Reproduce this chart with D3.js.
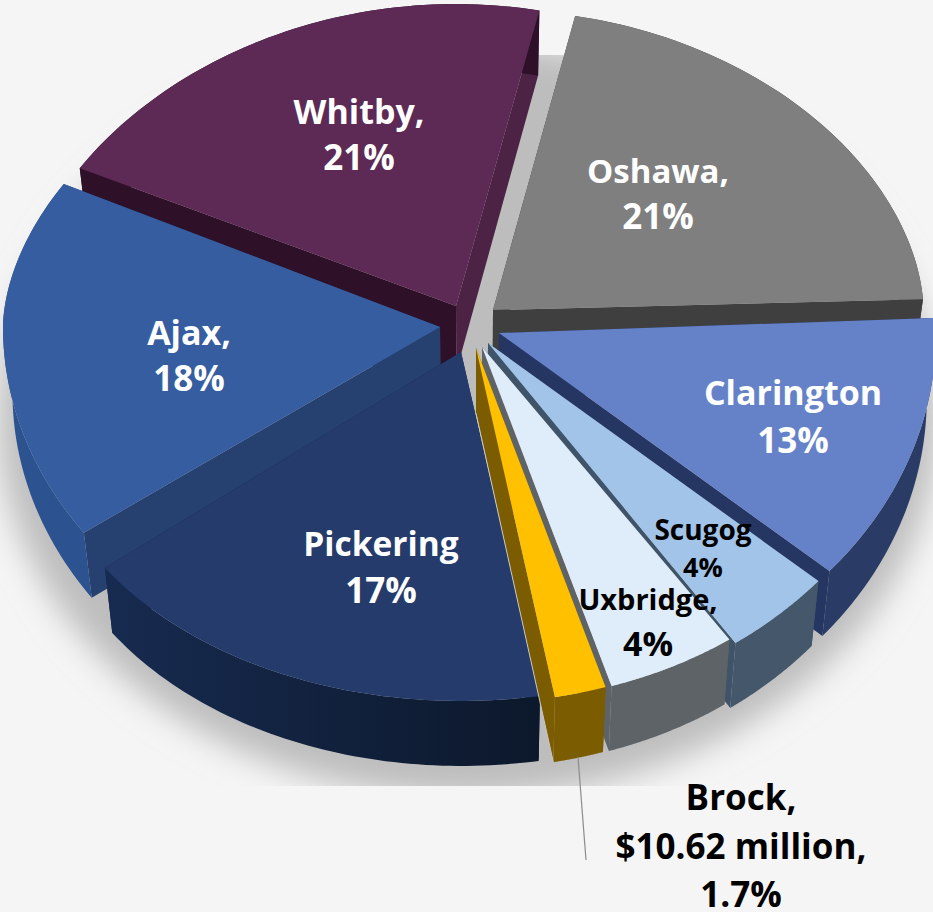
<!DOCTYPE html>
<html>
<head>
<meta charset="utf-8">
<script src="https://cdnjs.cloudflare.com/ajax/libs/d3/7.8.5/d3.min.js"></script>
<style>
  html, body { margin: 0; padding: 0; background: #f5f5f5; overflow: hidden; }
  svg { display: block; }
  text { font-family: "Open Sans", sans-serif; font-weight: 700; text-anchor: middle; }
</style>
</head>
<body>
<script>
//-----------------------------------------------------------------
//------------------ Chart values ---------------------------------

var towns  = ["Oshawa", "Clarington", "Scugog", "Uxbridge", "Brock", "Pickering", "Ajax", "Whitby"];
var shares = [21, 13, 4, 4, 1.7, 17, 18, 21];
var labelLines = [
    ["Oshawa,", "21%"],
    ["Clarington", "13%"],
    ["Scugog", "4%"],
    ["Uxbridge,", "4%"],
    ["Brock,", "$10.62 million,", "1.7%"],
    ["Pickering", "17%"],
    ["Ajax,", "18%"],
    ["Whitby,", "21%"]
];

//-----------------------------------------------------------------
//------------------ Colours for each slice -----------------------

var topColors   = ["#7f7f7f", "#6582c9", "#a1c4e8", "#dfecf9", "#ffc000", "#243b6b", "#355d9f", "#5c2a55"];
var rimColors   = ["#3f3f3f", "#2a3b66", "#45586b", "#5e6367", "#7b5c00", "url(#pickeringWall)", "#2c5290", "#2f1029"];
var startColors = ["#3f3f3f", "#263662", "#3f5468", "#5e6367", "#7b5c00", "#14264a", "#264070", "#2f1029"];
var endColors   = ["#3f3f3f", "#263662", "#3f5468", "#5e6367", "#7b5c00", "#14264a", "#264070", "#4c2245"];
var textColors  = ["#fff", "#fff", "#000", "#000", "#000", "#fff", "#fff", "#fff"];

//-----------------------------------------------------------------
//------------------ Layout ---------------------------------------

var width = 933, height = 912;
var center = { x: 475, y: 335 };
var radiusX = 437, radiusUp = 305, radiusDown = 355;  // the disc is tilted so the far half is squashed
var depth = 65, pinch = 0.02;                         // thickness, and how much the underside narrows

// how far each slice is pulled from the centre, and rim trim
var explodeX = [18, 24, 13, 7, 1, -14, -35, -19];
var explodeY = [-25, -2, 8, 12, 13, 17, -8, -29];
var rimX = [0.985, 1, 1, 1, 1, 1, 1, 1];
var rimY = [0.984, 1.025, 1.025, 1, 1, 0.983, 1, 0.99];

// rim is not a true ellipse, it flattens or bulges towards the sides
var powerUp   = [1.1, 1, 1, 1, 1, 1, 1.12, 1.16];
var powerDown = [1, 1, 1, 1, 1, 0.88, 1, 1];

// perspective shift (degrees) at each slice boundary
var tiltShift = [0, 0.4, -2.9, -2.7, 0.1, 0.8, 4.4, 5.4, 0];
var startDeg = 11;

// paint order, back to front
var paintOrder = [0, 7, 6, 5, 1, 2, 3, 4];

// label anchors (centre x, first baseline) and line spacing
var labelX   = [658, 793, 703, 648, 741, 381, 189, 359];
var labelY   = [183, 405, 540, 610, 810, 556, 345, 124];
var labelGap = [46, 48, 37, 46, 48.5, 47, 46, 46];
var labelSize = [[33, 35], [34, 35], [28, 27], [29, 34], [35, 35, 35], [33.5, 35], [34, 35], [34, 35]];

//-----------------------------------------------------------------
//------------------ Creating the svg -----------------------------

var svg = d3.select("body").append("svg")
    .attr("width", width)
    .attr("height", height);

svg.append("rect").attr("width", width).attr("height", height).attr("fill", "#f5f5f5");

var defs = svg.append("defs");
defs.append("filter").attr("id", "soft")
    .attr("x", "-10%").attr("y", "-10%").attr("width", "120%").attr("height", "120%")
    .append("feGaussianBlur").attr("stdDeviation", 16);
defs.append("clipPath").attr("id", "floor")
    .append("rect").attr("x", 0).attr("y", 55).attr("width", width).attr("height", 731);

var wallGrad = defs.append("linearGradient").attr("id", "pickeringWall");
wallGrad.append("stop").attr("offset", "0%").attr("stop-color", "#172b50");
wallGrad.append("stop").attr("offset", "100%").attr("stop-color", "#0c182b");

// soft shadow the pie sits on
svg.append("g").attr("clip-path", "url(#floor)")
    .append("ellipse")
    .attr("cx", 468).attr("cy", 420).attr("rx", 470).attr("ry", 378)
    .attr("fill", "#bdbdbd")
    .attr("filter", "url(#soft)");

//-----------------------------------------------------------------
//------------------ Pie angles -----------------------------------

var toRad = Math.PI / 180;

var pie = d3.pie().sort(null)
    .startAngle(startDeg * toRad)
    .endAngle((startDeg + 360) * toRad);

var arcs = pie(shares);

var boundaries = arcs.map(function(d) { return d.startAngle; }).concat(arcs[arcs.length - 1].endAngle);

// pie angle to drawn angle
var tiltScale = d3.scaleLinear()
    .domain(boundaries)
    .range(boundaries.map(function(b, i) { return b + tiltShift[i] * toRad; }));

function project(i, angle, t) {
    var a = tiltScale(angle),
        cos = Math.cos(a),
        up = cos > 0,
        reach = up ? radiusUp * Math.pow(cos, powerUp[i]) : -radiusDown * Math.pow(-cos, powerDown[i]);
    return [
        center.x + explodeX[i] + radiusX * rimX[i] * Math.sin(a) * t,
        center.y + explodeY[i] - reach * rimY[i] * t
    ];
}

function under(p) {
    return [p[0] + (center.x - p[0]) * pinch, p[1] + depth];
}

var line = d3.line();

function rimPoints(i) {
    var n = 60;
    return d3.range(n + 1).map(function(k) {
        return project(i, arcs[i].startAngle + (arcs[i].endAngle - arcs[i].startAngle) * k / n, 1);
    });
}

//-----------------------------------------------------------------
//------------------ Drawing the slices ---------------------------

var slices = svg.append("g").selectAll("g")
    .data(paintOrder)
    .enter().append("g")
    .attr("class", function(i) { return "slice " + towns[i]; });

// straight walls
slices.append("path")
    .attr("fill", function(i) { return startColors[i]; })
    .attr("d", function(i) {
        var apex = project(i, arcs[i].startAngle, 0), rim = project(i, arcs[i].startAngle, 1);
        return line([apex, rim, under(rim), under(apex)]) + "Z";
    });

slices.append("path")
    .attr("fill", function(i) { return endColors[i]; })
    .attr("d", function(i) {
        var apex = project(i, arcs[i].endAngle, 0), rim = project(i, arcs[i].endAngle, 1);
        return line([apex, rim, under(rim), under(apex)]) + "Z";
    });

// curved wall
slices.append("path")
    .attr("fill", function(i) { return rimColors[i]; })
    .attr("d", function(i) {
        var pts = rimPoints(i);
        return line(pts.concat(pts.map(under).reverse())) + "Z";
    });

// top face
slices.append("path")
    .attr("fill", function(i) { return topColors[i]; })
    .attr("d", function(i) {
        return line([project(i, arcs[i].startAngle, 0)].concat(rimPoints(i))) + "Z";
    });

// thin pale edge where the Brock wall meets Pickering
var brock = towns.indexOf("Brock");
svg.append("path")
    .attr("fill", "none")
    .attr("stroke", "#c9c9c9")
    .attr("stroke-width", 1)
    .attr("d", line([under(project(brock, arcs[brock].endAngle, 0)), under(project(brock, arcs[brock].endAngle, 1))]));

//-----------------------------------------------------------------
//------------------ Leader line and labels -----------------------

svg.append("line")
    .attr("x1", 578).attr("y1", 757)
    .attr("x2", 586).attr("y2", 860)
    .attr("stroke", "#8c8c8c")
    .attr("stroke-width", 1.2);

towns.forEach(function(town, i) {
    var label = svg.append("text")
        .attr("fill", textColors[i]);
    labelLines[i].forEach(function(txt, k) {
        label.append("tspan")
            .attr("x", labelX[i])
            .attr("y", labelY[i] + k * labelGap[i])
            .attr("font-size", labelSize[i][k])
            .text(txt);
    });
});
</script>
</body>
</html>
